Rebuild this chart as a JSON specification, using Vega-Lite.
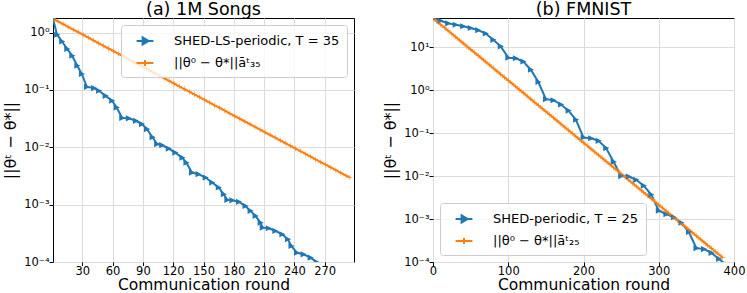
{
  "$schema": "https://vega.github.io/schema/vega-lite/v6.json",
  "padding": {"left": 2, "top": 0, "right": 0, "bottom": 0},
  "bounds": "flush",
  "spacing": 79,
  "config": {
    "font": "DejaVu Sans",
    "view": {"stroke": "black", "strokeWidth": 1},
    "axis": {"domain": false, "grid": true, "gridColor": "#dcdcdc", "gridWidth": 1, "tickColor": "black", "tickSize": 4, "labelPadding": 0, "labelColor": "black", "labelFontSize": 11.5, "labelFont": "DejaVu Sans", "titleFont": "DejaVu Sans", "titleFontSize": 16, "titleFontWeight": "normal", "titleColor": "black"},
    "axisX": {"titlePadding": 0.5, "tickSize": 3.5, "titleFontSize": 15.5},
    "title": {"fontSize": 17.5, "fontWeight": "normal", "font": "DejaVu Sans", "color": "black", "offset": -0.5}
  },
  "resolve": {"scale": {"color": "independent"}, "legend": {"color": "independent"}},
  "hconcat": [
    {
      "width": 301,
      "height": 244,
      "title": "(a) 1M Songs",
      "data": {"values": [
        {"t": 1, "v": 1.75, "s": "shed"}, {"t": 5, "v": 0.92, "s": "shed"}, {"t": 10, "v": 0.70, "s": "shed"}, {"t": 15, "v": 0.52, "s": "shed"}, {"t": 20, "v": 0.396, "s": "shed"}, {"t": 25, "v": 0.265, "s": "shed"}, {"t": 29.5, "v": 0.19, "s": "shed"}, {"t": 34.5, "v": 0.113, "s": "shed"}, {"t": 41.5, "v": 0.108, "s": "shed"}, {"t": 46.5, "v": 0.097, "s": "shed"}, {"t": 53, "v": 0.079, "s": "shed"}, {"t": 59.5, "v": 0.065, "s": "shed"}, {"t": 64, "v": 0.0496, "s": "shed"}, {"t": 69.5, "v": 0.0324, "s": "shed"}, {"t": 76, "v": 0.032, "s": "shed"}, {"t": 83, "v": 0.029, "s": "shed"}, {"t": 89, "v": 0.0254, "s": "shed"}, {"t": 94, "v": 0.0208, "s": "shed"}, {"t": 99.5, "v": 0.015, "s": "shed"}, {"t": 104, "v": 0.0114, "s": "shed"}, {"t": 109, "v": 0.0109, "s": "shed"}, {"t": 115.5, "v": 0.0095, "s": "shed"}, {"t": 122, "v": 0.0081, "s": "shed"}, {"t": 129, "v": 0.0066, "s": "shed"}, {"t": 133, "v": 0.0054, "s": "shed"}, {"t": 138.5, "v": 0.00363, "s": "shed"}, {"t": 145, "v": 0.0034, "s": "shed"}, {"t": 152, "v": 0.00297, "s": "shed"}, {"t": 158.5, "v": 0.00243, "s": "shed"}, {"t": 165, "v": 0.00199, "s": "shed"}, {"t": 170, "v": 0.00152, "s": "shed"}, {"t": 173.5, "v": 0.00121, "s": "shed"}, {"t": 178.5, "v": 0.00119, "s": "shed"}, {"t": 185, "v": 0.00112, "s": "shed"}, {"t": 191.5, "v": 0.00095, "s": "shed"}, {"t": 196.5, "v": 0.00078, "s": "shed"}, {"t": 201.5, "v": 0.000636, "s": "shed"}, {"t": 206.5, "v": 0.000486, "s": "shed"}, {"t": 208.5, "v": 0.000397, "s": "shed"}, {"t": 214.5, "v": 0.000388, "s": "shed"}, {"t": 221, "v": 0.000348, "s": "shed"}, {"t": 228, "v": 0.000305, "s": "shed"}, {"t": 233.5, "v": 0.000249, "s": "shed"}, {"t": 237, "v": 0.00019, "s": "shed"}, {"t": 242.5, "v": 0.000145, "s": "shed"}, {"t": 249, "v": 0.000136, "s": "shed"}, {"t": 256, "v": 0.000119, "s": "shed"}, {"t": 262, "v": 0.0000995, "s": "shed"}, {"t": 267, "v": 0.000085, "s": "shed"}, {"t": 272, "v": 0.000068, "s": "shed"},
        {"t": 1, "v": 1.75, "s": "bound"}, {"t": 6, "v": 1.570, "s": "bound"}, {"t": 11, "v": 1.408, "s": "bound"}, {"t": 16, "v": 1.263, "s": "bound"}, {"t": 21, "v": 1.133, "s": "bound"}, {"t": 26, "v": 1.017, "s": "bound"}, {"t": 31, "v": 0.912, "s": "bound"}, {"t": 36, "v": 0.818, "s": "bound"}, {"t": 41, "v": 0.734, "s": "bound"}, {"t": 46, "v": 0.658, "s": "bound"}, {"t": 51, "v": 0.590, "s": "bound"}, {"t": 56, "v": 0.529, "s": "bound"}, {"t": 61, "v": 0.475, "s": "bound"}, {"t": 66, "v": 0.426, "s": "bound"}, {"t": 71, "v": 0.382, "s": "bound"}, {"t": 76, "v": 0.343, "s": "bound"}, {"t": 81, "v": 0.307, "s": "bound"}, {"t": 86, "v": 0.276, "s": "bound"}, {"t": 91, "v": 0.247, "s": "bound"}, {"t": 96, "v": 0.222, "s": "bound"}, {"t": 101, "v": 0.1995, "s": "bound"}, {"t": 106, "v": 0.179, "s": "bound"}, {"t": 111, "v": 0.1605, "s": "bound"}, {"t": 116, "v": 0.144, "s": "bound"}, {"t": 121, "v": 0.129, "s": "bound"}, {"t": 126, "v": 0.1158, "s": "bound"}, {"t": 131, "v": 0.1039, "s": "bound"}, {"t": 136, "v": 0.0932, "s": "bound"}, {"t": 141, "v": 0.0836, "s": "bound"}, {"t": 146, "v": 0.075, "s": "bound"}, {"t": 151, "v": 0.0673, "s": "bound"}, {"t": 156, "v": 0.0604, "s": "bound"}, {"t": 161, "v": 0.0541, "s": "bound"}, {"t": 166, "v": 0.0486, "s": "bound"}, {"t": 171, "v": 0.0436, "s": "bound"}, {"t": 176, "v": 0.0391, "s": "bound"}, {"t": 181, "v": 0.0351, "s": "bound"}, {"t": 186, "v": 0.0315, "s": "bound"}, {"t": 191, "v": 0.0282, "s": "bound"}, {"t": 196, "v": 0.0253, "s": "bound"}, {"t": 201, "v": 0.0227, "s": "bound"}, {"t": 206, "v": 0.0204, "s": "bound"}, {"t": 211, "v": 0.0183, "s": "bound"}, {"t": 216, "v": 0.0164, "s": "bound"}, {"t": 221, "v": 0.0147, "s": "bound"}, {"t": 226, "v": 0.0132, "s": "bound"}, {"t": 231, "v": 0.01185, "s": "bound"}, {"t": 236, "v": 0.01063, "s": "bound"}, {"t": 241, "v": 0.00953, "s": "bound"}, {"t": 246, "v": 0.00855, "s": "bound"}, {"t": 251, "v": 0.00767, "s": "bound"}, {"t": 256, "v": 0.00688, "s": "bound"}, {"t": 261, "v": 0.00618, "s": "bound"}, {"t": 266, "v": 0.00554, "s": "bound"}, {"t": 271, "v": 0.00497, "s": "bound"}, {"t": 276, "v": 0.00446, "s": "bound"}, {"t": 281, "v": 0.004, "s": "bound"}, {"t": 286, "v": 0.00359, "s": "bound"}, {"t": 291, "v": 0.00322, "s": "bound"}, {"t": 295, "v": 0.00295, "s": "bound"}
      ]},
      "encoding": {
        "x": {"field": "t", "type": "quantitative", "scale": {"domain": [1, 299], "nice": false, "zero": false}, "axis": {"values": [30, 60, 90, 120, 150, 180, 210, 240, 270], "title": "Communication round", "labelFlush": false}},
        "y": {"field": "v", "type": "quantitative", "scale": {"type": "log", "domain": [0.0001, 1.8], "nice": false}, "axis": {"values": [0.0001, 0.001, 0.01, 0.1, 1], "labelExpr": "'10' + ['⁻⁴','⁻³','⁻²','⁻¹','⁰','¹'][round(log(datum.value)/LN10)+4]", "title": "||θᵗ − θ*||", "titlePadding": 5}}
      },
      "layer": [
        {
          "mark": {"type": "line", "clip": true, "strokeWidth": 2},
          "encoding": {
            "order": {"field": "t", "type": "quantitative"},
            "color": {"field": "s", "type": "nominal", "scale": {"domain": ["shed", "bound"], "range": ["#1f77b4", "#ff7f0e"]},
              "legend": {"title": null, "orient": "top-right", "offset": 7, "labelExpr": "datum.value == 'shed' ? 'SHED-LS-periodic, T = 35' : '||θ⁰ − θ*||āᵗ₃₅'", "labelFontSize": 13, "labelColor": "black", "labelLimit": 400, "symbolSize": 256, "symbolStrokeWidth": 2, "symbolOffset": 8, "labelOffset": 20, "rowPadding": 5, "padding": 7, "fillColor": "rgba(255,255,255,0.8)", "strokeColor": "#cccccc", "cornerRadius": 3,
                "encode": {"symbols": {"update": {"shape": {"signal": "datum.value == 'shed' ? 'M-1.05,0H1.05M-0.3,-0.45L0.45,0L-0.3,0.45Z' : 'M-1.05,0H1.05M0,-0.37V0.37'"}, "fill": {"signal": "datum.value == 'shed' ? '#1f77b4' : '#ff7f0e'"}, "fillOpacity": {"value": 1}}}}}}
          }
        },
        {
          "transform": [{"filter": "datum.s == 'shed'"}],
          "mark": {"type": "point", "clip": true, "filled": true, "opacity": 1, "color": "#1f77b4", "shape": "M-0.9,-0.95L1,0L-0.9,0.95Z", "size": 42}
        },
        {
          "transform": [{"filter": "datum.s == 'bound'"}],
          "mark": {"type": "point", "clip": true, "filled": true, "opacity": 0.85, "color": "#ff7f0e", "shape": "M-1,-0.13H1V0.13H-1ZM-0.13,-1H0.13V1H-0.13Z", "size": 28}
        }
      ]
    },
    {
      "width": 301,
      "height": 244,
      "title": "(b) FMNIST",
      "data": {"values": [
        {"t": 0, "v": 47.2, "s": "shed"}, {"t": 10, "v": 41.5, "s": "shed"}, {"t": 20, "v": 36.0, "s": "shed"}, {"t": 30, "v": 33.5, "s": "shed"}, {"t": 40, "v": 30.8, "s": "shed"}, {"t": 50, "v": 28.1, "s": "shed"}, {"t": 60, "v": 25.0, "s": "shed"}, {"t": 70, "v": 20.9, "s": "shed"}, {"t": 80, "v": 14.9, "s": "shed"}, {"t": 90, "v": 10.5, "s": "shed"}, {"t": 100, "v": 5.73, "s": "shed"}, {"t": 110, "v": 5.55, "s": "shed"}, {"t": 120, "v": 4.65, "s": "shed"}, {"t": 130, "v": 3.0, "s": "shed"}, {"t": 140, "v": 1.55, "s": "shed"}, {"t": 150, "v": 0.618, "s": "shed"}, {"t": 160, "v": 0.585, "s": "shed"}, {"t": 170, "v": 0.465, "s": "shed"}, {"t": 180, "v": 0.335, "s": "shed"}, {"t": 190, "v": 0.205, "s": "shed"}, {"t": 200, "v": 0.0791, "s": "shed"}, {"t": 210, "v": 0.0762, "s": "shed"}, {"t": 220, "v": 0.0662, "s": "shed"}, {"t": 230, "v": 0.045, "s": "shed"}, {"t": 240, "v": 0.0215, "s": "shed"}, {"t": 250, "v": 0.01, "s": "shed"}, {"t": 260, "v": 0.0098, "s": "shed"}, {"t": 270, "v": 0.0082, "s": "shed"}, {"t": 280, "v": 0.006, "s": "shed"}, {"t": 290, "v": 0.0037, "s": "shed"}, {"t": 300, "v": 0.00156, "s": "shed"}, {"t": 310, "v": 0.0013, "s": "shed"}, {"t": 320, "v": 0.0011, "s": "shed"}, {"t": 330, "v": 0.00082, "s": "shed"}, {"t": 340, "v": 0.0005, "s": "shed"}, {"t": 350, "v": 0.00021, "s": "shed"}, {"t": 360, "v": 0.0002, "s": "shed"}, {"t": 370, "v": 0.000163, "s": "shed"}, {"t": 380, "v": 0.000118, "s": "shed"}, {"t": 390, "v": 0.000085, "s": "shed"},
        {"t": 0, "v": 47.3, "s": "bound"}, {"t": 5, "v": 40.05, "s": "bound"}, {"t": 10, "v": 33.9, "s": "bound"}, {"t": 15, "v": 28.7, "s": "bound"}, {"t": 20, "v": 24.29, "s": "bound"}, {"t": 25, "v": 20.56, "s": "bound"}, {"t": 30, "v": 17.4, "s": "bound"}, {"t": 35, "v": 14.73, "s": "bound"}, {"t": 40, "v": 12.47, "s": "bound"}, {"t": 45, "v": 10.55, "s": "bound"}, {"t": 50, "v": 8.93, "s": "bound"}, {"t": 55, "v": 7.56, "s": "bound"}, {"t": 60, "v": 6.4, "s": "bound"}, {"t": 65, "v": 5.42, "s": "bound"}, {"t": 70, "v": 4.585, "s": "bound"}, {"t": 75, "v": 3.882, "s": "bound"}, {"t": 80, "v": 3.286, "s": "bound"}, {"t": 85, "v": 2.781, "s": "bound"}, {"t": 90, "v": 2.354, "s": "bound"}, {"t": 95, "v": 1.993, "s": "bound"}, {"t": 100, "v": 1.687, "s": "bound"}, {"t": 105, "v": 1.428, "s": "bound"}, {"t": 110, "v": 1.208, "s": "bound"}, {"t": 115, "v": 1.023, "s": "bound"}, {"t": 120, "v": 0.866, "s": "bound"}, {"t": 125, "v": 0.733, "s": "bound"}, {"t": 130, "v": 0.62, "s": "bound"}, {"t": 135, "v": 0.525, "s": "bound"}, {"t": 140, "v": 0.4444, "s": "bound"}, {"t": 145, "v": 0.3762, "s": "bound"}, {"t": 150, "v": 0.3184, "s": "bound"}, {"t": 155, "v": 0.2695, "s": "bound"}, {"t": 160, "v": 0.2281, "s": "bound"}, {"t": 165, "v": 0.1931, "s": "bound"}, {"t": 170, "v": 0.1634, "s": "bound"}, {"t": 175, "v": 0.1384, "s": "bound"}, {"t": 180, "v": 0.1171, "s": "bound"}, {"t": 185, "v": 0.0991, "s": "bound"}, {"t": 190, "v": 0.0839, "s": "bound"}, {"t": 195, "v": 0.071, "s": "bound"}, {"t": 200, "v": 0.0601, "s": "bound"}, {"t": 205, "v": 0.0509, "s": "bound"}, {"t": 210, "v": 0.0431, "s": "bound"}, {"t": 215, "v": 0.0364, "s": "bound"}, {"t": 220, "v": 0.0309, "s": "bound"}, {"t": 225, "v": 0.0261, "s": "bound"}, {"t": 230, "v": 0.0221, "s": "bound"}, {"t": 235, "v": 0.01872, "s": "bound"}, {"t": 240, "v": 0.01585, "s": "bound"}, {"t": 245, "v": 0.01341, "s": "bound"}, {"t": 250, "v": 0.01135, "s": "bound"}, {"t": 255, "v": 0.00961, "s": "bound"}, {"t": 260, "v": 0.00813, "s": "bound"}, {"t": 265, "v": 0.00688, "s": "bound"}, {"t": 270, "v": 0.00583, "s": "bound"}, {"t": 275, "v": 0.00493, "s": "bound"}, {"t": 280, "v": 0.00418, "s": "bound"}, {"t": 285, "v": 0.00353, "s": "bound"}, {"t": 290, "v": 0.00299, "s": "bound"}, {"t": 295, "v": 0.00253, "s": "bound"}, {"t": 300, "v": 0.00214, "s": "bound"}, {"t": 305, "v": 0.00181, "s": "bound"}, {"t": 310, "v": 0.001535, "s": "bound"}, {"t": 315, "v": 0.0013, "s": "bound"}, {"t": 320, "v": 0.0011, "s": "bound"}, {"t": 325, "v": 0.000931, "s": "bound"}, {"t": 330, "v": 0.000788, "s": "bound"}, {"t": 335, "v": 0.000667, "s": "bound"}, {"t": 340, "v": 0.000565, "s": "bound"}, {"t": 345, "v": 0.000478, "s": "bound"}, {"t": 350, "v": 0.000405, "s": "bound"}, {"t": 355, "v": 0.000342, "s": "bound"}, {"t": 360, "v": 0.00029, "s": "bound"}, {"t": 365, "v": 0.000245, "s": "bound"}, {"t": 370, "v": 0.000208, "s": "bound"}, {"t": 375, "v": 0.000176, "s": "bound"}, {"t": 380, "v": 0.000149, "s": "bound"}, {"t": 385, "v": 0.000126, "s": "bound"}
      ]},
      "encoding": {
        "x": {"field": "t", "type": "quantitative", "scale": {"domain": [0, 400], "nice": false, "zero": false}, "axis": {"values": [0, 100, 200, 300, 400], "title": "Communication round", "labelFlush": false}},
        "y": {"field": "v", "type": "quantitative", "scale": {"type": "log", "domain": [0.0001, 48], "nice": false}, "axis": {"values": [0.0001, 0.001, 0.01, 0.1, 1, 10], "labelExpr": "'10' + ['⁻⁴','⁻³','⁻²','⁻¹','⁰','¹'][round(log(datum.value)/LN10)+4]", "title": "||θᵗ − θ*||", "titlePadding": 5}}
      },
      "layer": [
        {
          "mark": {"type": "line", "clip": true, "strokeWidth": 2},
          "encoding": {
            "order": {"field": "t", "type": "quantitative"},
            "color": {"field": "s", "type": "nominal", "scale": {"domain": ["shed", "bound"], "range": ["#1f77b4", "#ff7f0e"]},
              "legend": {"title": null, "orient": "bottom-left", "offset": 7, "labelExpr": "datum.value == 'shed' ? 'SHED-periodic, T = 25' : '||θ⁰ − θ*||āᵗ₂₅'", "labelFontSize": 13, "labelColor": "black", "labelLimit": 400, "symbolSize": 256, "symbolStrokeWidth": 2, "symbolOffset": 8, "labelOffset": 20, "rowPadding": 5, "padding": 7, "fillColor": "rgba(255,255,255,0.8)", "strokeColor": "#cccccc", "cornerRadius": 3,
                "encode": {"symbols": {"update": {"shape": {"signal": "datum.value == 'shed' ? 'M-1.05,0H1.05M-0.3,-0.45L0.45,0L-0.3,0.45Z' : 'M-1.05,0H1.05M0,-0.37V0.37'"}, "fill": {"signal": "datum.value == 'shed' ? '#1f77b4' : '#ff7f0e'"}, "fillOpacity": {"value": 1}}}}}}
          }
        },
        {
          "transform": [{"filter": "datum.s == 'shed'"}],
          "mark": {"type": "point", "clip": true, "filled": true, "opacity": 1, "color": "#1f77b4", "shape": "M-0.9,-0.95L1,0L-0.9,0.95Z", "size": 42}
        },
        {
          "transform": [{"filter": "datum.s == 'bound'"}],
          "mark": {"type": "point", "clip": true, "filled": true, "opacity": 0.85, "color": "#ff7f0e", "shape": "M-1,-0.13H1V0.13H-1ZM-0.13,-1H0.13V1H-0.13Z", "size": 28}
        }
      ]
    }
  ]
}
